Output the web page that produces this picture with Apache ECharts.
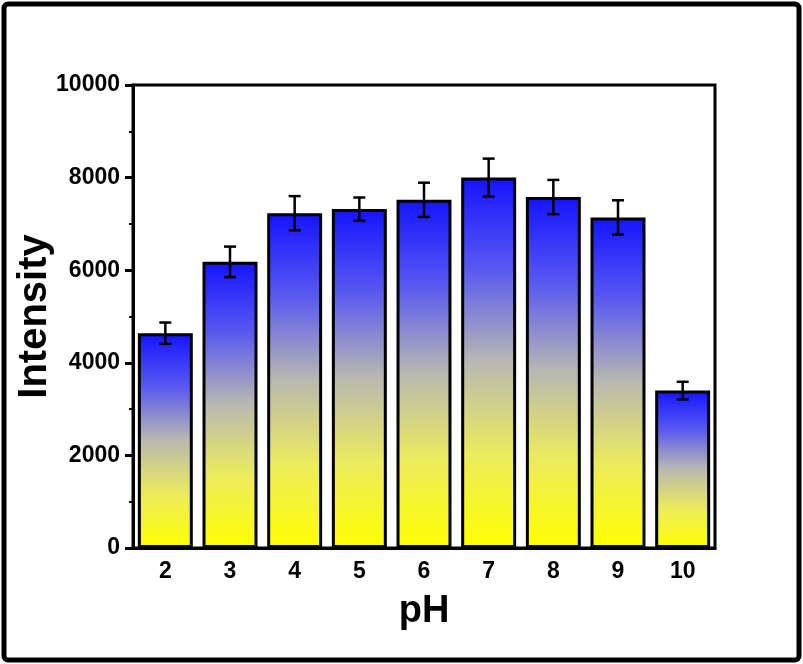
<!DOCTYPE html>
<html>
<head>
<meta charset="utf-8">
<script src="https://cdn.jsdelivr.net/npm/echarts@6/dist/echarts.min.js"></script>
<style>
  html, body { margin: 0; padding: 0; background: #fff; }
  #chart { width: 803px; height: 664px; }
</style>
</head>
<body>
<div id="chart"></div>
<script>
// pH values on the category axis
const phLabels = ['2', '3', '4', '5', '6', '7', '8', '9', '10'];
// mean intensity at each pH
const intensity = [4640, 6180, 7230, 7320, 7520, 8000, 7580, 7140, 3400];
// standard deviation of each measurement
const errors = [230, 330, 370, 250, 370, 410, 370, 370, 190];
// value axis tick settings
const yMin = 0, yMax = 10000, yStep = 2000;

const FONT = "'Liberation Sans', Arial, sans-serif";

const chart = echarts.init(document.getElementById('chart'), null, { renderer: 'canvas' });

const barGradient = new echarts.graphic.LinearGradient(0, 0, 0, 1, [
  { offset: 0, color: '#1414ff' },
  { offset: 0.25, color: '#5a5af0' },
  { offset: 0.5, color: '#b9b9b0' },
  { offset: 0.75, color: '#ecec5c' },
  { offset: 1, color: '#ffff00' }
]);

const errorData = intensity.map((v, i) => [i, v - errors[i], v + errors[i]]);

chart.setOption({
  animation: false,
  backgroundColor: '#fff',
  graphic: [{
    type: 'rect',
    shape: { x: 4, y: 4, width: 795, height: 656, r: 4 },
    style: { fill: 'none', stroke: '#000', lineWidth: 5 },
    z: 100
  }],
  grid: {
    left: 133, right: 88, top: 85, bottom: 116,
    outerBoundsMode: 'none',
    containLabel: false,
    show: true, borderColor: '#000', borderWidth: 3
  },
  xAxis: [{
    type: 'category',
    data: phLabels,
    name: 'pH',
    nameLocation: 'middle',
    nameGap: 45,
    nameMoveOverlap: false,
    nameTextStyle: { fontFamily: FONT, fontWeight: 'bold', fontSize: 38, color: '#000' },
    axisLine: { lineStyle: { color: '#000', width: 3 } },
    axisTick: { alignWithLabel: true, length: 7, lineStyle: { width: 3, color: '#000' } },
    axisLabel: { fontFamily: FONT, fontWeight: 'bold', fontSize: 23, color: '#000', margin: 12 }
  }, {
    type: 'category',
    data: phLabels,
    position: 'bottom',
    axisLine: { show: false },
    axisTick: { alignWithLabel: false, length: 4, lineStyle: { width: 2, color: '#000' } },
    axisLabel: { show: false }
  }],
  yAxis: {
    type: 'value',
    min: yMin, max: yMax, interval: yStep,
    name: 'Intensity',
    nameLocation: 'middle',
    nameGap: 78,
    nameMoveOverlap: false,
    nameTextStyle: { fontFamily: FONT, fontWeight: 'bold', fontSize: 40, color: '#000' },
    axisLine: { show: true, lineStyle: { color: '#000', width: 3 } },
    axisTick: { show: true, length: 8, lineStyle: { width: 3, color: '#000' } },
    minorTick: { show: true, splitNumber: 2, length: 4, lineStyle: { width: 2, color: '#000' } },
    splitLine: { show: false },
    axisLabel: {
      fontFamily: FONT, fontWeight: 'bold', fontSize: 23, color: '#000', margin: 13,
      formatter: function (v) { return String(v); }
    }
  },
  series: [{
    type: 'bar',
    data: intensity,
    barWidth: '85%',
    itemStyle: { color: barGradient, borderColor: '#000', borderWidth: 3 },
    z: 2
  }, {
    type: 'custom',
    data: errorData,
    z: 5,
    renderItem: function (params, api) {
      const x = api.value(0);
      const lo = api.coord([x, api.value(1)]);
      const hi = api.coord([x, api.value(2)]);
      const cap = 6;
      const style = { stroke: '#000', lineWidth: 2.5 };
      return {
        type: 'group',
        children: [
          { type: 'line', shape: { x1: lo[0], y1: lo[1], x2: hi[0], y2: hi[1] }, style: style },
          { type: 'line', shape: { x1: hi[0] - cap, y1: hi[1], x2: hi[0] + cap, y2: hi[1] }, style: style },
          { type: 'line', shape: { x1: lo[0] - cap, y1: lo[1], x2: lo[0] + cap, y2: lo[1] }, style: style }
        ]
      };
    }
  }]
});
</script>
</body>
</html>
